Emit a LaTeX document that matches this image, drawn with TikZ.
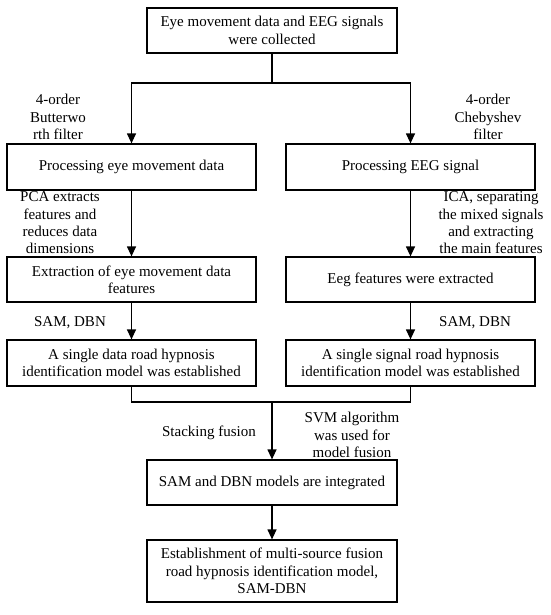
\documentclass[tikz,border=0pt]{standalone}
\usepackage{fontspec}
\setmainfont{Liberation Serif}
\usetikzlibrary{arrows.meta}
\begin{document}
\begin{tikzpicture}[x=1pt,y=-1pt,
  font=\fontsize{15}{17.4}\selectfont,
  box/.style={draw,line width=1.2pt,inner sep=0pt,align=center},
  lbl/.style={inner sep=0pt,align=center},
  conn/.style={line width=1.2pt},
  arr/.style={line width=1.2pt,-{Triangle[length=10pt,width=9pt]}}]
\useasboundingbox (0,0) rectangle (550,615);
\node[box,minimum width=250,minimum height=45] (top) at (272,30.5) {Eye movement data and EEG signals\\were collected};
\node[box,minimum width=249,minimum height=46] (p1) at (131.5,167) {Processing eye movement data};
\node[box,minimum width=249,minimum height=46] (e1) at (410.5,167) {Processing EEG signal};
\node[box,minimum width=249,minimum height=45] (p2) at (131.5,279.5) {Extraction of eye movement data\\features};
\node[box,minimum width=249,minimum height=45] (e2) at (410.5,279.5) {Eeg features were extracted};
\node[box,minimum width=249,minimum height=46] (p3) at (131.5,363) {A single data road hypnosis\\identification model was established};
\node[box,minimum width=249,minimum height=46] (e3) at (410.5,363) {A single signal road hypnosis\\identification model was established};
\node[box,minimum width=250,minimum height=45] (m) at (272,482.5) {SAM and DBN models are integrated};
\node[box,minimum width=250,minimum height=62] (f) at (272,571) {Establishment of multi-source fusion\\road hypnosis identification model,\\SAM-DBN};
\coordinate (j1) at (272,83);
\coordinate (j2) at (272,402);
\draw[conn] (top.south) -- (j1);
\draw[arr] (j1) -| (p1.north);
\draw[arr] (j1) -| (e1.north);
\draw[arr] (p1) -- (p2);
\draw[arr] (e1) -- (e2);
\draw[arr] (p2) -- (p3);
\draw[arr] (e2) -- (e3);
\draw[conn] (p3.south) |- (j2);
\draw[conn] (e3.south) |- (j2);
\draw[arr] (j2) -- (m.north);
\draw[arr] (m) -- (f);
\node[lbl] (l1) at (58,117) {4-order\\Butterwo\\rth filter};
\node[lbl] (l2) at (488,117) {4-order\\Chebyshev\\filter};
\node[lbl] (l3) at (60,223) {PCA extracts\\features and\\reduces data\\dimensions};
\node[lbl] (l4) at (491,223) {ICA, separating\\the mixed signals\\and extracting\\the main features};
\node[lbl] (l5) at (70,323) {SAM, DBN};
\node[lbl] (l6) at (475,323) {SAM, DBN};
\node[lbl] (l7) at (209,433) {Stacking fusion};
\node[lbl] (l8) at (352,435) {SVM algorithm\\was used for\\model fusion};
\end{tikzpicture}
\end{document}
